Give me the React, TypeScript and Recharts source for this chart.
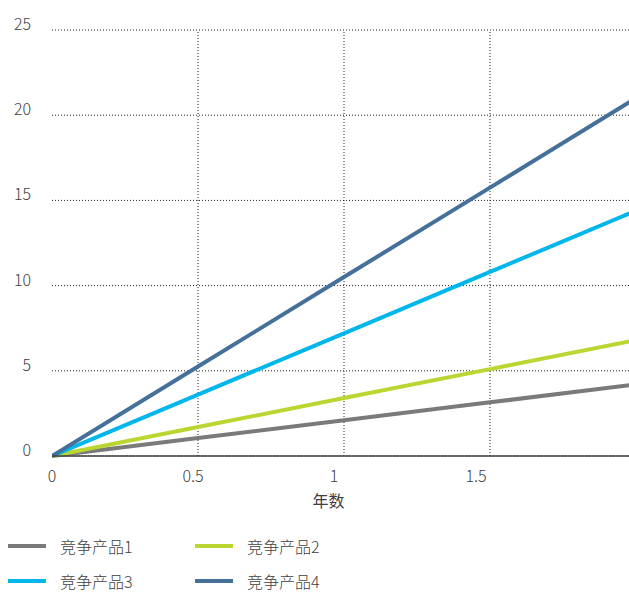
import React from 'react';
import { LineChart, Line, XAxis, YAxis, CartesianGrid, ReferenceLine } from 'recharts';

const years = [0, 0.5, 1, 1.5, 2];
const product1 = [0, 1.05, 2.1, 3.15, 4.2];
const product2 = [0, 1.7, 3.4, 5.1, 6.8];
const product3 = [0, 3.6, 7.2, 10.8, 14.4];
const product4 = [0, 5.25, 10.5, 15.75, 21.0];
const seriesNames = ['竞争产品1', '竞争产品2', '竞争产品3', '竞争产品4'];
const colors = ['#7a7a7a', '#bcd531', '#00b6ea', '#44709a'];
const xTicks = [0, 0.5, 1, 1.5];
const yTicks = [0, 5, 10, 15, 20, 25];
const xMax = 1.976;

const data = years.map((y, i) => ({
  year: y,
  p1: product1[i],
  p2: product2[i],
  p3: product3[i],
  p4: product4[i],
}));

const FONT = '"Noto Sans CJK SC", "Noto Sans", sans-serif';
const TXT = '#404040';

const XTick = (props: any) => {
  const { x, y, payload } = props;
  const shift = -Math.min(payload.value * 10, 14);
  return (
    <text x={x + shift} y={y} dy={18} textAnchor="middle" fill={TXT} fontSize={16} fontFamily={FONT} fontWeight={300}>
      {payload.value}
    </text>
  );
};

const YTick = (props: any) => {
  const { y, payload } = props;
  return (
    <text x={31} y={y} textAnchor="end" fill={TXT} fontSize={16} fontFamily={FONT} fontWeight={300}>
      {payload.value}
    </text>
  );
};

export default function App() {
  const keys = ['p1', 'p2', 'p3', 'p4'];
  return (
    <div style={{ position: 'absolute', left: 0, top: 0, width: 629, height: 592, background: '#fff', overflow: 'hidden' }}>
      <LineChart width={629} height={520} data={data} margin={{ top: 30, right: 0, left: 0, bottom: 0 }}>
        <CartesianGrid vertical={false} stroke="#222" strokeDasharray="1 2" />
        {[0.5, 1, 1.5].map((v) => (
          <ReferenceLine key={v} x={v} stroke="#222" strokeDasharray="1 2" />
        ))}
        <XAxis
          dataKey="year"
          type="number"
          domain={[0, xMax]}
          allowDataOverflow
          ticks={xTicks}
          tick={<XTick />}
          tickLine={false}
          axisLine={{ stroke: '#404040', strokeWidth: 1.5 }}
          height={64}
          label={{ value: '年数', position: 'insideTop', offset: 40, dx: -12, fill: TXT, fontSize: 16, fontFamily: FONT }}
        />
        <YAxis
          type="number"
          domain={[0, 25]}
          ticks={yTicks}
          tick={<YTick />}
          tickLine={false}
          axisLine={false}
          width={52}
        />
        {keys.map((k, i) => (
          <Line key={k} dataKey={k} name={seriesNames[i]} stroke={colors[i]} strokeWidth={4} dot={false} isAnimationActive={false} type="linear" />
        ))}
      </LineChart>
      {seriesNames.map((n, i) => {
        const col = i % 2;
        const row = Math.floor(i / 2);
        return (
          <div key={n} style={{ position: 'absolute', left: col === 0 ? 8 : 195, top: 534 + row * 35, height: 24, display: 'flex', alignItems: 'center', fontFamily: FONT, fontSize: 16, fontWeight: 300, color: TXT, lineHeight: '24px' }}>
            <svg width={38} height={6} style={{ marginRight: 14 }}>
              <line x1={0} y1={3} x2={38} y2={3} stroke={colors[i]} strokeWidth={4} />
            </svg>
            <span>{n}</span>
          </div>
        );
      })}
    </div>
  );
}
